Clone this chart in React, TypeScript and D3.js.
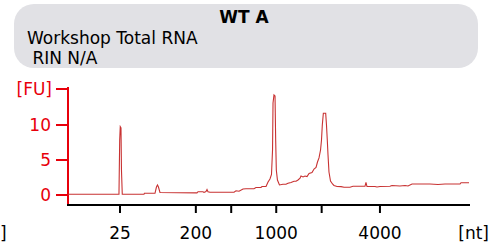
import React from "react";
import * as d3 from "d3";

// migration time (s) and fluorescence (FU)
const times = [20.0, 26.34, 26.43, 26.5, 26.59, 26.65, 26.75, 29.45, 29.51, 30.82, 31.0, 31.13, 31.25, 31.44, 36.04, 36.17, 36.79, 36.92, 37.16, 37.29, 37.41, 37.66, 40.65, 40.9, 41.27, 41.77, 42.14, 43.13, 43.38, 44.0, 44.13, 44.63, 44.88, 45.12, 45.31, 45.44, 45.5, 45.62, 45.75, 45.83, 45.91, 46.05, 46.3, 46.74, 47.11, 47.36, 47.74, 48.11, 48.36, 48.61, 48.86, 48.98, 49.23, 49.48, 49.73, 49.98, 50.35, 50.6, 50.85, 51.03, 51.22, 51.41, 51.53, 51.63, 51.76, 52.05, 52.15, 52.25, 52.34, 52.46, 52.65, 52.9, 53.08, 53.46, 53.96, 54.33, 55.07, 55.45, 56.94, 57.06, 57.19, 58.18, 58.43, 58.81, 60.05, 60.3, 61.29, 61.92, 62.29, 62.79, 65.02, 66.02, 66.89, 68.76, 68.88, 69.88];
const fu = [0.1, 0.1, 7.86, 9.76, 9.57, 3.57, 0.1, 0.1, 0.24, 0.24, 1.14, 1.43, 1.14, 0.36, 0.31, 0.47, 0.47, 0.36, 0.5, 0.79, 0.47, 0.4, 0.4, 0.61, 0.54, 0.86, 0.9, 0.9, 1.07, 1.07, 1.21, 1.21, 1.86, 2.29, 2.93, 6.43, 13.14, 14.29, 14.14, 7.86, 3.57, 2.14, 1.43, 1.53, 1.53, 1.67, 1.79, 1.97, 1.97, 2.14, 2.39, 2.71, 2.57, 2.71, 2.64, 3.07, 3.21, 3.71, 3.93, 4.71, 5.29, 6.43, 7.86, 10.0, 11.67, 11.67, 10.0, 7.86, 5.71, 3.29, 2.0, 1.57, 1.36, 1.21, 1.19, 1.1, 1.1, 1.24, 1.24, 1.79, 1.21, 1.21, 1.14, 1.21, 1.24, 1.36, 1.29, 1.36, 1.29, 1.57, 1.57, 1.5, 1.57, 1.57, 1.76, 1.76];

const xTickTimes = [26.47, 35.9, 40.3, 45.9, 51.55, 58.8];
const xTickLabels = ["25", "200", "", "1000", "", "4000"];
const yTicks = [0, 5, 10];

const title = "WT A";
const subtitle1 = "Workshop Total RNA";
const subtitle2 = " RIN N/A";

export default function App() {
  const W = 492, H = 245;
  const x = d3.scaleLinear().domain([20, 70]).range([68, 470]);
  const y = d3.scaleLinear().domain([0, 15]).range([195, 90]);
  const line = d3.line<number>().x((_, i) => x(times[i])).y((d) => y(d));
  const font = "Tahoma, 'DejaVu Sans', Verdana, sans-serif";
  const red = "#e8000b";
  const fs = 17;
  return (
    <svg width={W} height={H} style={{ position: "absolute", left: 0, top: 0 }} fontFamily={font}>
      <rect x={14} y={4} width={464} height={64} rx={20} ry={20} fill="#e1e1e5" />
      <text x={244} y={23} textAnchor="middle" fontWeight="bold" fontSize={17}>{title}</text>
      <text x={27} y={44} fontSize={fs}>{subtitle1}</text>
      <text x={27} y={64} fontSize={fs} style={{ whiteSpace: "pre" }}>{subtitle2}</text>

      {/* y axis */}
      <line x1={68} x2={68} y1={87} y2={205} stroke={red} strokeWidth={2} />
      <line x1={56} x2={68} y1={89} y2={89} stroke={red} strokeWidth={2} />
      <text x={52} y={95} textAnchor="end" fontSize={fs} fill={red}>[FU]</text>
      {yTicks.map((t) => (
        <g key={t}>
          <line x1={56} x2={68} y1={y(t)} y2={y(t)} stroke={red} strokeWidth={2} />
          <text x={51} y={y(t) + 6} textAnchor="end" fontSize={fs} fill={red}>{t}</text>
        </g>
      ))}

      {/* x axis */}
      <line x1={67} x2={470} y1={205} y2={205} stroke="#000" strokeWidth={2} />
      {xTickTimes.map((t, i) => (
        <g key={i}>
          <line x1={x(t)} x2={x(t)} y1={205} y2={213} stroke="#000" strokeWidth={2} />
          <text x={x(t)} y={239} textAnchor="middle" fontSize={fs}>{xTickLabels[i]}</text>
        </g>
      ))}
      <text x={489} y={239} textAnchor="end" fontSize={fs}>[nt]</text>
      <text x={0} y={239} fontSize={fs}>]</text>

      <path d={line(fu) || ""} fill="none" stroke="#c83232" strokeWidth={1.1} />
    </svg>
  );
}
